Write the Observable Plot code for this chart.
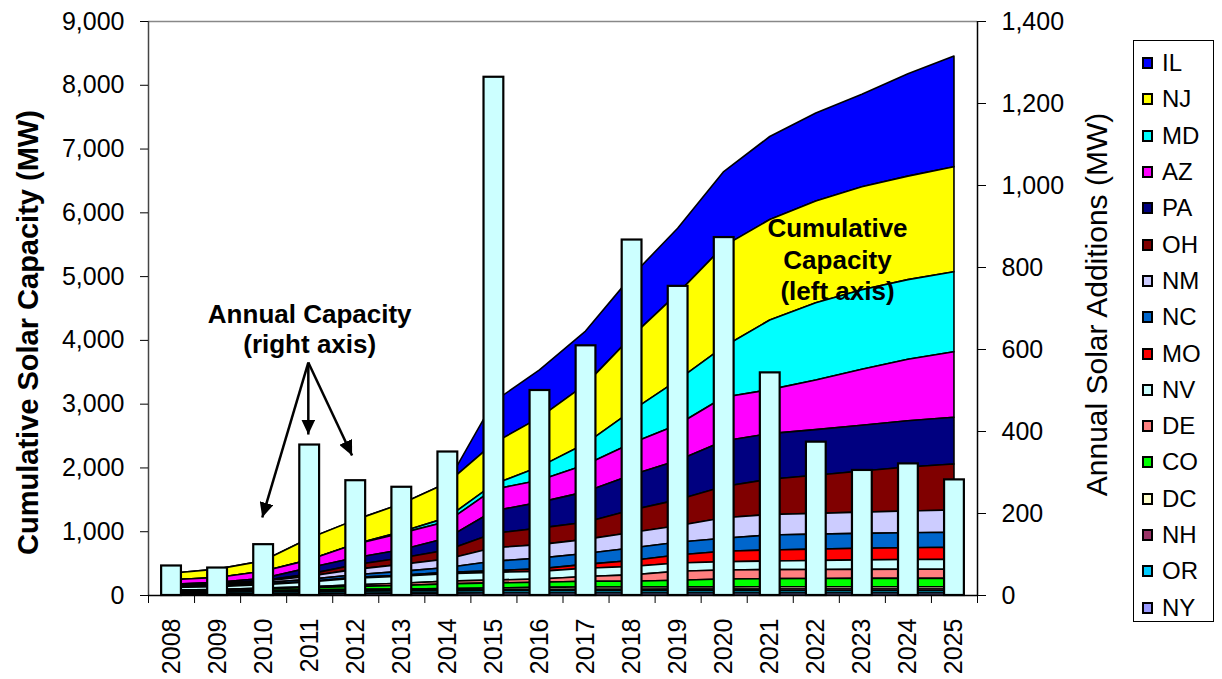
<!DOCTYPE html>
<html><head><meta charset="utf-8">
<script src="https://cdn.jsdelivr.net/npm/d3@7"></script>
<script src="https://cdn.jsdelivr.net/npm/@observablehq/plot@0.6"></script>
<style>
html,body{margin:0;padding:0;background:#fff;}
#wrap{position:relative;width:1222px;height:679px;font-family:"Liberation Sans",Arial,sans-serif;}
#legend{position:absolute;left:1133px;top:40px;width:81px;height:582px;border:1px solid #000;box-sizing:border-box;padding-top:4px;background:#fff;}
.item{height:36.3px;display:flex;align-items:center;font-size:24px;color:#000;}
.sw{width:7px;height:8px;border:2px solid #000;margin-left:8px;margin-right:9px;flex:none;}
</style></head><body><div id="wrap"><div id="legend"></div></div>
<script>
// ---- data ----
const years = [2008,2009,2010,2011,2012,2013,2014,2015,2016,2017,2018,2019,2020,2021,2022,2023,2024,2025];
const states = ["IL","NJ","MD","AZ","PA","OH","NM","NC","MO","NV","DE","CO","DC","NH","OR","NY"];
const colors = ["#0000FF","#FFFF00","#00FFFF","#FF00FF","#000080","#800000","#CCCCFF","#0066CC","#FF0000","#CCFFFF","#FF8080","#00FF00","#FFFFCC","#993366","#00CCFF","#9999FF"];
const IL = [0,0,0,0,0,0,0,650,749,836,949,1020,1170,1301,1380,1453,1604,1735];
const NJ = [104,132,165,340,380,440,546,643,772,928,1163,1360,1577,1576,1594,1615,1623,1647];
const MD = [0,0,0,0,0,20,60,80,209,332,510,700,793,1092,1213,1244,1248,1254];
const AZ = [70,75,110,124,213,260,258,337,348,426,497,562,685,690,777,879,966,1029];
const PA = [15,20,35,100,110,130,190,352,403,476,549,616,715,715,715,718,725,732];
const OH = [5,8,10,32,73,100,140,226,259,269,352,405,488,552,598,644,688,721];
const NM = [15,20,25,50,85,110,135,210,212,222,243,260,322,322,325,333,342,350];
const NC = [15,20,25,35,40,60,75,150,168,170,196,200,203,235,235,235,235,235];
const MO = [0,2,3,5,12,15,20,25,40,60,95,125,165,173,180,182,185,188];
const NV = [40,42,55,75,105,110,118,120,120,130,130,130,130,135,140,148,153,157];
const DE = [3,5,10,15,25,35,42,45,50,75,100,140,142,142,142,142,142,142];
const CO = [20,22,28,35,45,55,75,80,80,90,90,104,122,126,128,130,131,131];
const DC = [7,8,12,16,20,21,24,28,33,35,35,36,36,37,37,37,37,37];
const NH = [3,4,6,8,10,11,12,15,20,23,24,25,25,26,26,26,26,26];
const OR = [25,26,28,30,32,33,34,35,35,35,35,35,35,35,35,35,35,35];
const NY = [20,22,24,26,28,30,30,32,32,32,32,32,32,32,32,32,32,32];
const annual = [72,67,124,367,280,264,350,1264,500,609,867,754,873,543,374,305,321,282];
const leftTicks = [0,1000,2000,3000,4000,5000,6000,7000,8000,9000];
const rightTicks = [0,200,400,600,800,1000,1200,1400];
const leftTitle = "Cumulative Solar Capacity (MW)";
const rightTitle = "Annual Solar Additions (MW)";
const annualNote = "Annual Capacity\n(right axis)";
const cumNote = "Cumulative\nCapacity\n(left axis)";
// annotation arrows in data units (year, MW on left axis)
const arrowFrom = {x: 2010.97, y: 3653};
const arrowTips = [{x: 2009.97, y: 1223}, {x: 2010.97, y: 2524}, {x: 2011.92, y: 2195}];

// ---- build ----
const series = {IL,NJ,MD,AZ,PA,OH,NM,NC,MO,NV,DE,CO,DC,NH,OR,NY};
const k = 9000 / 1400;
const fmt = d3.format(",");
const stackOrder = states.slice().reverse();
const areaData = [];
for (const s of states) years.forEach((y, i) => areaData.push({state: s, year: y, value: series[s][i]}));
const barData = years.map((y, i) => ({year: y, value: annual[i]}));
const hw = 0.215;
const boundaries = [...years.map(y => y - 0.5), years[years.length - 1] + 0.5];
const arrows = arrowTips.map(t => ({x1: arrowFrom.x, y1: arrowFrom.y, x2: t.x, y2: t.y}));

const chart = Plot.plot({
  width: 1222, height: 679,
  marginLeft: 148, marginRight: 245, marginTop: 21, marginBottom: 84,
  style: {fontFamily: '"Liberation Sans", Arial, sans-serif', fontSize: "25px", background: "white", overflow: "visible", color: "black"},
  x: {type: "linear", domain: [2007.5, 2025.5], axis: null},
  y: {domain: [0, 9000], axis: null},
  color: {domain: states, range: colors},
  marks: [
    Plot.areaY(areaData, {x: "year", y: "value", z: "state", fill: "state", order: stackOrder, stroke: "black", strokeWidth: 1.6, strokeLinejoin: "round"}),
    Plot.rect(barData, {x1: d => d.year - hw, x2: d => d.year + hw, y1: 0, y2: d => d.value * k, fill: "#CCFFFF", stroke: "black", strokeWidth: 2.2}),
    Plot.ruleY([9000], {stroke: "#888", strokeWidth: 1.5}),
    Plot.ruleX([2007.5], {stroke: "#444", strokeWidth: 1.5}),
    Plot.ruleX([2025.5], {stroke: "black", strokeWidth: 1.5}),
    Plot.ruleY([0], {stroke: "black", strokeWidth: 1.5}),
    Plot.axisY({anchor: "left", ticks: leftTicks, tickFormat: fmt, tickSize: 8, tickPadding: 16, fontSize: 25, label: null}),
    Plot.axisY({anchor: "right", ticks: rightTicks.map(v => v * k), tickFormat: v => fmt(Math.round(v / k)), tickSize: 8, tickPadding: 16, fontSize: 25, label: null}),
    Plot.axisX({ticks: boundaries, tickFormat: () => "", tickSize: 8, label: null}),
    Plot.text(years, {x: d => d, text: d => String(d), frameAnchor: "bottom", dy: 23, rotate: -90, textAnchor: "end", lineAnchor: "middle", fontSize: 25}),
    Plot.text([leftTitle], {frameAnchor: "left", dx: -120, dy: 24, rotate: -90, textAnchor: "middle", fontSize: 29, fontWeight: "bold"}),
    Plot.text([rightTitle], {frameAnchor: "right", dx: 120, dy: -4, rotate: -90, textAnchor: "middle", fontSize: 30}),
    Plot.text([annualNote], {x: 2011, y: 4190, fontSize: 26, fontWeight: "bold", lineHeight: 1.15}),
    Plot.text([cumNote], {x: 2022.46, y: 5284, fontSize: 26, fontWeight: "bold", lineHeight: 1.21}),
    Plot.link(arrows, {x1: "x1", y1: "y1", x2: "x2", y2: "y2", stroke: "#010101", strokeWidth: 2.5, className: "annot-arrow"})
  ]
});
document.getElementById("wrap").prepend(chart);

// filled arrowheads for annotation links
const svg = d3.select(chart);
const defs = svg.insert("defs", ":first-child");
defs.append("marker").attr("id", "ahead").attr("markerUnits", "userSpaceOnUse")
  .attr("markerWidth", 16).attr("markerHeight", 14).attr("refX", 15).attr("refY", 7).attr("orient", "auto")
  .append("path").attr("d", "M0,0L15,7L0,14Z").attr("fill", "black");
svg.selectAll(".annot-arrow path, g[stroke='#010101'] path").attr("marker-end", "url(#ahead)");

// legend
const legend = d3.select("#legend");
states.forEach((s, i) => {
  const it = legend.append("div").attr("class", "item");
  it.append("div").attr("class", "sw").style("background", colors[i]);
  it.append("span").text(s);
});
</script></body></html>
